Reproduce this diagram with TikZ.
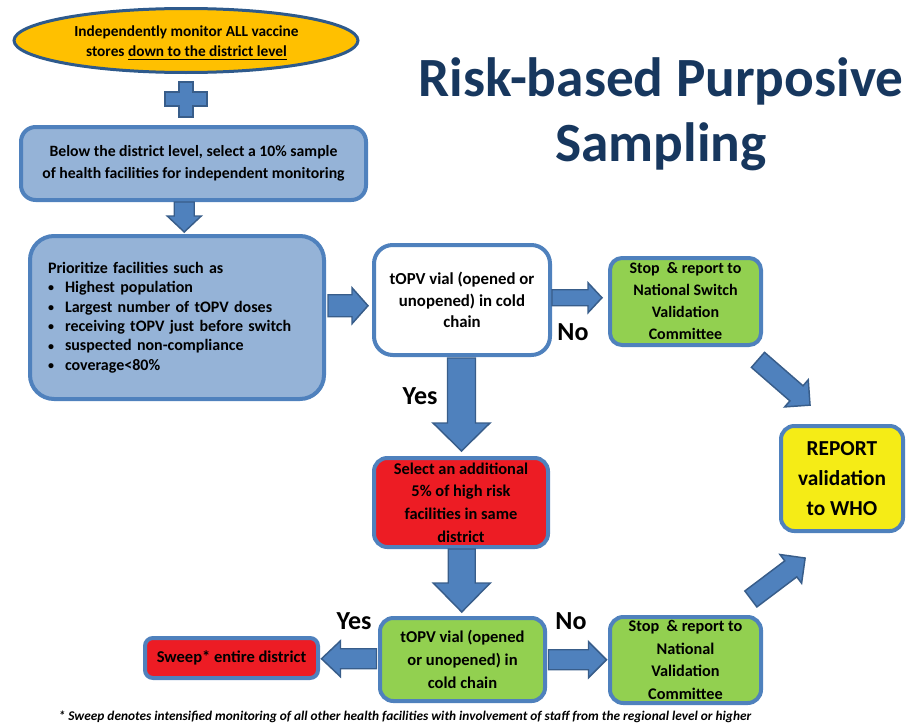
\documentclass[tikz,border=0pt]{standalone}
\usepackage{fontspec}
\setmainfont{Carlito}
\usetikzlibrary{shapes.geometric,calc}
\definecolor{ellfill}{HTML}{FFC000}
\definecolor{ellline}{HTML}{2E5A8C}
\definecolor{bluefill}{HTML}{95B3D7}
\definecolor{blueline}{HTML}{4F81BD}
\definecolor{arrfill}{HTML}{4F81BD}
\definecolor{arrline}{HTML}{385D8A}
\definecolor{greenfill}{HTML}{92D050}
\definecolor{redfill}{HTML}{ED1C24}
\definecolor{yelfill}{HTML}{F5EC16}
\definecolor{titlecol}{HTML}{17375E}
\def\u{0.75pt}
\newcommand\mybul{\makebox[12.75pt][l]{\raisebox{0.5pt}{\scalebox{0.75}{\textbullet}}}}
% #1 centre, #2 angle, #3 length, #4 shaft width, #5 head width, #6 head length (all in px)
\newcommand\fatarrow[6]{%
  \path[barrow, shift={#1}, rotate=#2]
    ({-#3/2},{-#4/2}) -- ({#3/2-#6},{-#4/2}) -- ({#3/2-#6},{-#5/2}) -- ({#3/2},0)
    -- ({#3/2-#6},{#5/2}) -- ({#3/2-#6},{#4/2}) -- ({-#3/2},{#4/2}) -- cycle;}
\begin{document}
\begin{tikzpicture}[x=0.75pt,y=-0.75pt,
  box/.style={draw=blueline, line width=3pt, inner sep=0pt, align=center,
    font=\bfseries\fontsize{12.2}{16.5}\selectfont},
  barrow/.style={draw=arrline, fill=arrfill, line width=1.1pt, line join=miter},
  lab/.style={font=\bfseries\fontsize{19.5}{22}\selectfont, inner sep=0pt}
]
\useasboundingbox (0,0) rectangle (907,728);

% title
\node[font=\bfseries\fontsize{41.5}{49}\selectfont, text=titlecol, align=center] (title) at (661,114)
  {Risk-based Purposive\\Sampling};

% top ellipse
\node[ellipse, draw=ellline, fill=ellfill, line width=2.25pt, minimum width={344*\u}, minimum height={64*\u},
  inner sep=0pt] (ell) at (186,40.5) {};
\node[align=center, inner sep=0pt, font=\bfseries\fontsize{11.5}{15}\selectfont] (ellt) at (186.5,43)
  {Independently monitor ALL vaccine\\stores \underline{down to the district level}};

% plus sign
\draw[barrow, line width=1pt]
  (179,82) -- (193,82) -- (193,92) -- (207,92) -- (207,106) -- (193,106) -- (193,117)
  -- (179,117) -- (179,106) -- (165,106) -- (165,92) -- (179,92) -- cycle;

% boxes
\node[box, fill=bluefill, rounded corners=11pt, minimum width={345*\u}, minimum height={73*\u},
  font=\bfseries\fontsize{11.8}{16.5}\selectfont] (b1) at (193.5,163.5)
  {Below the district level, select a 10\% sample\\of health facilities for independent monitoring};

\node[box, fill=bluefill, rounded corners=18pt, minimum width={294*\u}, minimum height={163*\u},
  text width={258*\u}, align=left, font=\bfseries\fontsize{12}{14.6}\selectfont] (b2) at (177,317.5)
  {Prioritize facilities such as\\
   \mybul Highest population\\
   \mybul Largest number of tOPV doses\\
   \mybul receiving tOPV just before switch\\
   \mybul suspected non-compliance\\
   \mybul coverage<80\%};

\node[box, fill=white, rounded corners=14pt, minimum width={176*\u}, minimum height={110*\u},
  font=\bfseries\fontsize{12.6}{16}\selectfont] (wb) at (462,300)
  {tOPV vial (opened or\\unopened) in cold\\chain};

\node[box, fill=greenfill, rounded corners=9pt, minimum width={151*\u}, minimum height={87*\u},
  font=\bfseries\fontsize{12}{16.5}\selectfont] (g1) at (685.5,301.5)
  {Stop\ \ \& report to\\National Switch\\Validation\\Committee};

\node[box, fill=yelfill, rounded corners=10pt, minimum width={122*\u}, minimum height={105*\u},
  font=\bfseries\fontsize{16}{22.5}\selectfont] (yb) at (842,478.5)
  {REPORT\\validation\\to WHO};

\node[box, fill=redfill, rounded corners=10pt, minimum width={174*\u}, minimum height={89*\u},
  font=\bfseries\fontsize{12.3}{17}\selectfont] (rb) at (461,502.5)
  {Select an additional\\5\% of high risk\\facilities in same\\district};

\node[box, fill=greenfill, rounded corners=10pt, minimum width={165*\u}, minimum height={83*\u},
  font=\bfseries\fontsize{12.4}{17}\selectfont] (g2) at (462.5,659.5)
  {tOPV vial (opened\\or unopened) in\\cold chain};

\node[box, fill=redfill, rounded corners=6pt, minimum width={173*\u}, minimum height={40*\u},
  font=\bfseries\fontsize{12.4}{16}\selectfont] (sw) at (231.5,658)
  {Sweep* entire district};

\node[box, fill=greenfill, rounded corners=10pt, minimum width={151*\u}, minimum height={86*\u},
  font=\bfseries\fontsize{12.2}{17}\selectfont] (g3) at (685.5,660)
  {Stop\ \ \& report to\\National\\Validation\\Committee};

% block arrows between nodes
\fatarrow{($(b1.south)!0.5!(b2.north)+(-1,-1)$)}{270}{30}{20}{34}{16}
\fatarrow{($(b2.east)!0.5!(wb.west)+(-1,-3)$)}{0}{40}{22}{36}{16}
\fatarrow{($(wb.east)!0.5!(g1.west)+(-3,-3)$)}{0}{50}{16}{30}{14}
\fatarrow{($(wb.south)!0.5!(rb.north)+(0,-2)$)}{270}{93}{28}{57}{28}
\fatarrow{($(rb.south)!0.5!(g2.north)+(0,-2)$)}{270}{63}{27}{57}{29}
\fatarrow{($(g2.west)!0.5!(sw.east)$)}{180}{55}{20}{36}{19}
\fatarrow{($(g2.east)!0.5!(g3.west)$)}{0}{58}{20}{36}{18}
\fatarrow{(784,382.5)}{-41}{69}{20}{36}{18}
\fatarrow{(778,578.5)}{37}{68}{20}{36}{18}

% labels
\node[lab] (no1) at (573,332) {No};
\node[lab] (yes1) at (420,396) {Yes};
\node[lab] (yes2) at (354,621) {Yes};
\node[lab] (no2) at (571,621) {No};

% footnote
\node[font=\bfseries\itshape\fontsize{10}{12}\selectfont, inner sep=0pt] (foot) at (405,717)
  {* Sweep denotes intensified monitoring of all other health facilities with involvement of staff from the regional level or higher};
\end{tikzpicture}
\end{document}
